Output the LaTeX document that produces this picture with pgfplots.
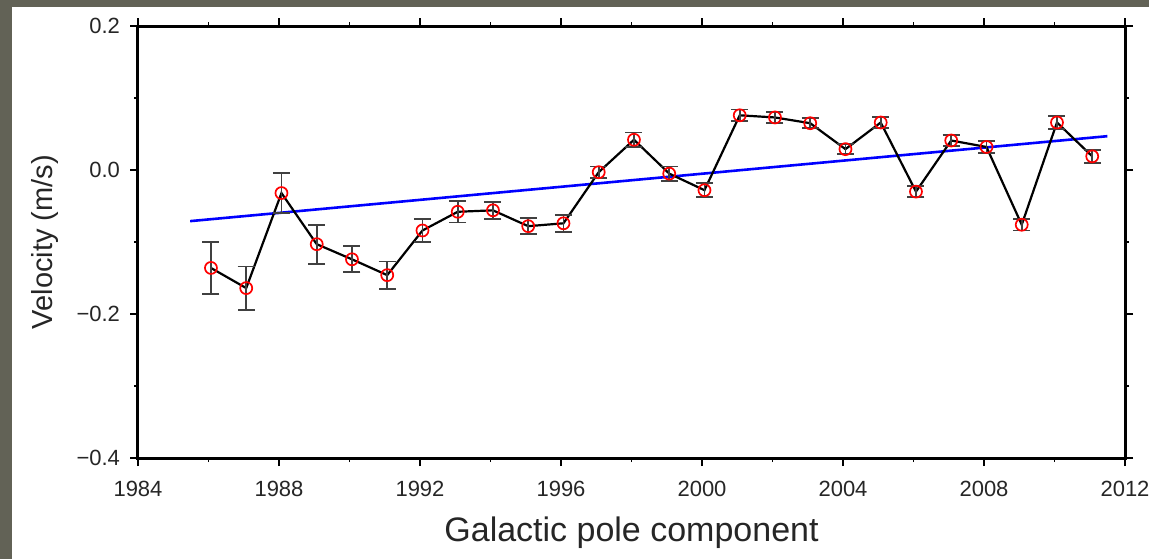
\documentclass[border=0pt]{standalone}
\usepackage{fontspec}
\setmainfont{Liberation Sans}
\usepackage{pgfplots}
\pgfplotsset{compat=1.18}
\definecolor{framegray}{RGB}{98,98,86}
\pgfplotstableread{
x y e
1986.07 -0.136 0.036
1987.07 -0.164 0.030
1988.07 -0.032 0.028
1989.07 -0.103 0.027
1990.07 -0.124 0.018
1991.07 -0.146 0.019
1992.07 -0.084 0.016
1993.07 -0.058 0.015
1994.07 -0.056 0.012
1995.07 -0.078 0.011
1996.07 -0.074 0.012
1997.07 -0.003 0.008
1998.07 0.042 0.010
1999.07 -0.005 0.010
2000.07 -0.028 0.010
2001.07 0.076 0.008
2002.07 0.073 0.008
2003.07 0.065 0.007
2004.07 0.029 0.007
2005.07 0.066 0.008
2006.07 -0.030 0.008
2007.07 0.041 0.008
2008.07 0.032 0.008
2009.07 -0.076 0.008
2010.07 0.066 0.009
2011.07 0.019 0.009
}\datatable
\begin{document}
\begin{tikzpicture}
\useasboundingbox (-69pt,-50.5pt) rectangle (505.5pt,229pt);
\fill[white] (-69pt,-50.5pt) rectangle (505.5pt,229pt);
\fill[framegray] (-69pt,-50.5pt) rectangle (-63pt,229pt);
\fill[framegray] (-69pt,225.5pt) rectangle (505.5pt,229pt);
\begin{axis}[
  at={(0,0)}, anchor=south west,
  scale only axis, width=493.5pt, height=216pt,
  xmin=1984, xmax=2012, ymin=-0.4, ymax=0.2,
  xtick={1984,1988,1992,1996,2000,2004,2008,2012},
  xticklabels={1984,1988,1992,1996,2000,2004,2008,2012},
  minor xtick={1986,1990,1994,1998,2002,2006,2010},
  ytick={-0.4,-0.2,0,0.2},
  yticklabels={−0.4,−0.2,0.0,0.2},
  minor ytick={-0.3,-0.1,0.1},
  tick align=outside, xtick pos=both, ytick pos=both,
  xticklabel pos=lower, yticklabel pos=left,
  major tick length=4pt, minor tick length=2pt,
  tick style={line width=0.8pt, black},
  axis line style={line width=1.5pt, black},
  ticklabel style={font=\fontsize{11pt}{13pt}\selectfont, text=black!85},
  xticklabel style={yshift=-4pt},
  yticklabel style={xshift=-1.5pt},
  xlabel={Galactic pole component},
  ylabel={Velocity (m/s)},
  xlabel style={font=\fontsize{17pt}{20pt}\selectfont, text=black!85, at={(axis description cs:0.5,-0.1938)}, anchor=base},
  ylabel style={font=\fontsize{14.5pt}{17pt}\selectfont, text=black!85, at={(axis description cs:-0.0871,0.5)}, anchor=base},
]
\addplot[blue, line width=1.3pt] coordinates {(1985.48,-0.071) (2011.5,0.047)};
\addplot[black, line width=1.1pt, mark=none,
  error bars/.cd, y dir=both, y explicit,
  error bar style={line width=0.9pt, black!75},
  error mark options={rotate=90, mark size=4.25pt, line width=0.9pt, black!75}]
  table[x=x, y=y, y error=e] {\datatable};
\addplot[only marks, mark=o, mark size=3pt, red, mark options={line width=0.85pt}]
  table[x=x, y=y] {\datatable};
\end{axis}
\end{tikzpicture}
\end{document}
